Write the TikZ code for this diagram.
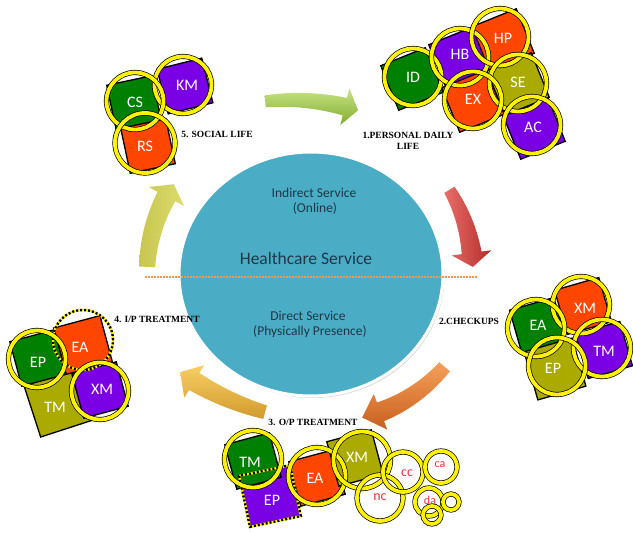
\documentclass[tikz,border=0pt]{standalone}
\usepackage{fontspec}
\setmainfont{Carlito}
\newfontfamily\capfont{Liberation Serif}
\usetikzlibrary{shapes.geometric,shadows}
\definecolor{grn}{RGB}{0,128,0}
\definecolor{pur}{RGB}{122,0,230}
\definecolor{org}{RGB}{255,70,0}
\definecolor{olv}{RGB}{170,170,0}
\definecolor{hubc}{RGB}{75,172,198}
\definecolor{hubtxt}{RGB}{30,55,70}
\definecolor{dotor}{RGB}{247,150,70}
\definecolor{smallred}{RGB}{230,50,60}
\newcommand\bandarrow[8]{%
  \pgfmathsetmacro\bab{#4-(#8)}%
  \path[#1] plot[domain=#3:\bab, samples=24, variable=\t] ({(#2+#5+(#6-#5)*(\t-(#3))/(\bab-(#3)))*cos(\t)},{(#2+#5+(#6-#5)*(\t-(#3))/(\bab-(#3)))*sin(\t)})
   -- ({(#2+#7)*cos(\bab)},{(#2+#7)*sin(\bab)})
   -- ({#2*cos(#4)},{#2*sin(#4)})
   -- ({(#2-#7)*cos(\bab)},{(#2-#7)*sin(\bab)})
   -- plot[domain=\bab:#3, samples=24, variable=\t] ({(#2-#5-(#6-#5)*(\t-(#3))/(\bab-(#3)))*cos(\t)},{(#2-#5-(#6-#5)*(\t-(#3))/(\bab-(#3)))*sin(\t)})
   -- cycle;}
\begin{document}
\begin{tikzpicture}[x=1pt,y=-1pt,
  sqr/.style={draw=black, line width=1.3pt, minimum size=46pt, inner sep=0pt, fill=#1},
  ring/.style={circle, draw=black, line width=0.7pt, double=yellow, double distance=3.8pt, minimum size=#1, inner sep=0pt},
  ring/.default=57pt,
  lab/.style={text=white, font=\fontsize{16}{16}\selectfont},
  slab/.style={text=smallred, font=\fontsize{#1}{#1}\selectfont},
  captx/.style={font=\capfont\bfseries\fontsize{9.5}{10.5}\selectfont, align=center},
  hubtext/.style={text=hubtxt, font=\fontsize{13.5}{14}\selectfont},
  dotline/.style={draw=yellow, line width=2.4pt, postaction={draw=black, line width=2.4pt, dash pattern=on 2pt off 2pt}}]
\useasboundingbox (0,0) rectangle (633,534);
\fill[white] (0,0) rectangle (633,534);

% ---- central hub ----
\node[ellipse, draw=white, line width=3pt, fill=hubc, minimum width=264pt, minimum height=244pt, inner sep=0pt,
      drop shadow={shadow xshift=1.5pt, shadow yshift=-2pt, opacity=0.3}] (hub) at (311,274) {};
\coordinate (dl) at (145,277);
\coordinate (dr) at (477,277);
\draw[dotor, line width=2.4pt, dash pattern=on 1.6pt off 1.4pt] (dl) -- (dr);
\node[hubtext] (ind1) at (314,193) {Indirect Service};
\node[hubtext] (ind2) at (315,209) {(Online)};
\node[text=hubtxt, font=\fontsize{17.5}{18}\selectfont] (hs) at (306,258) {Healthcare Service};
\node[hubtext] (dir1) at (308,316) {Direct Service};
\node[hubtext] (dir2) at (310,332) {(Physically Presence)};

% ---- cycle arrows ----
\begin{scope}[shift={(290,330)}]
  \bandarrow{top color={rgb,255:red,200;green,228;blue,130}, bottom color={rgb,255:red,130;green,172;blue,50}}{230}{-96.2}{-72.8}{6}{9}{19}{3.4}
\end{scope}
\begin{scope}[shift={(311,274)}]
  \bandarrow{left color={rgb,255:red,232;green,110;blue,105}, right color={rgb,255:red,180;green,45;blue,42}}{162}{-31.3}{-2.5}{6}{10}{20}{5}
\end{scope}
\begin{scope}[shift={(325,265)}]
  \bandarrow{top color={rgb,255:red,245;green,160;blue,90}, bottom color={rgb,255:red,200;green,95;blue,30}}{157}{40.4}{76.3}{7}{10}{19}{7}
\end{scope}
\begin{scope}[shift={(338.4,146.1)}]
  \bandarrow{top color={rgb,255:red,247;green,205;blue,100}, bottom color={rgb,255:red,210;green,155;blue,45}}{276}{105.4}{125}{7}{10}{19}{3.5}
\end{scope}
\begin{scope}[shift={(311,274)}]
  \bandarrow{left color={rgb,255:red,200;green,198;blue,80}, right color={rgb,255:red,220;green,220;blue,110}}{164}{182.5}{213.2}{8}{10}{20}{5}
\end{scope}

% ---- 5. social life ----
\node[sqr=pur, rotate=14] (kmS) at (185,86) {};
\node[sqr=grn, rotate=12] (csS) at (134,103) {};
\node[sqr=org, rotate=12] (rsS) at (148,146) {};
\node[ring] (kmR) at (183,85) {};
\node[ring] (csR) at (135,101) {};
\node[ring=60pt] (rsR) at (145,143) {};
\node[lab] (kmT) at (187,85) {KM};
\node[lab] (csT) at (135,102) {CS};
\node[lab] (rsT) at (145,146) {RS};
\node[captx] (c5) at (217,134) {5. SOCIAL LIFE};

% ---- 1. personal daily life ----
\node[sqr=grn, minimum size=48pt, rotate=22] (idS) at (412,79) {};
\node[sqr=pur, minimum size=48pt, rotate=22] (hbS) at (460,58) {};
\node[sqr=org, minimum size=48pt, rotate=22] (hpS) at (503,40) {};
\node[sqr=pur, minimum size=48pt, rotate=22] (acS) at (534,128) {};
\node[sqr=olv, minimum size=48pt, rotate=22] (seS) at (518,84) {};
\node[sqr=org, minimum size=48pt, rotate=22] (exS) at (473,101) {};
\node[ring] (idR) at (413,77) {};
\node[ring] (hbR) at (460,57) {};
\node[ring] (hpR) at (500,37) {};
\node[ring] (seR) at (518,83) {};
\node[ring] (exR) at (473,100) {};
\node[ring] (acR) at (532,125) {};
\node[lab] (idT) at (413,77) {ID};
\node[lab] (hbT) at (460,54) {HB};
\node[lab] (hpT) at (503,38) {HP};
\node[lab] (seT) at (518,82) {SE};
\node[lab] (exT) at (473,99) {EX};
\node[lab] (acT) at (533,127) {AC};
\node[captx] (c1) at (408,141) {1.PERSONAL DAILY\\LIFE};

% ---- 2. checkups ----
\node[sqr=org, rotate=16] (xmS) at (583,306) {};
\node[sqr=pur, rotate=16] (tmS) at (604,350) {};
\node[sqr=grn, rotate=16] (eaS) at (538,326) {};
\node[sqr=olv, rotate=16, minimum size=50pt] (epS) at (555,369) {};
\node[ring] (xmR) at (581,305) {};
\node[ring] (eaR) at (536,328) {};
\node[ring] (tmR) at (602,348) {};
\node[ring] (epR) at (557,366) {};
\node[lab] (eaT) at (538,325) {EA};
\node[lab] (xmT) at (585,308) {XM};
\node[lab] (tmT) at (604,351) {TM};
\node[lab] (epT) at (553,368) {EP};
\node[captx] (c2) at (469,321) {2.CHECKUPS};

% ---- 3. O/P treatment ----
\node[sqr=pur, rotate=12, minimum size=52pt, draw=none] (ep3S) at (270,496) {};
\node[sqr=grn, rotate=15] (tm3S) at (253,461) {};
\node[sqr=org, rotate=15] (ea3S) at (317,478) {};
\node[sqr=olv, rotate=15] (xm3S) at (355,458) {};
\node[rotate=12, minimum size=52pt, inner sep=0pt, dotline] (ep3D) at (270,496) {};
\node[ring] (tm3R) at (253,459) {};
\node[ring] (ea3R) at (317,476) {};
\node[ring] (xm3R) at (362,460) {};
\node[ring=46pt] (ncR) at (380,498) {};
\node[ring=40pt] (ccR) at (403,472) {};
\node[ring=32pt] (caR) at (441,467) {};
\node[ring=28pt] (daR) at (429,502) {};
\node[ring=16pt] (s1R) at (451,502) {};
\node[ring=18pt] (s2R) at (432,515) {};
\node[lab] (tm3T) at (250,462) {TM};
\node[lab] (ep3T) at (272,500) {EP};
\node[lab] (ea3T) at (315,478) {EA};
\node[lab] (xm3T) at (357,457) {XM};
\node[slab=14] (ccT) at (407,473) {cc};
\node[slab=12] (caT) at (440,465) {ca};
\node[slab=14] (ncT) at (380,497) {nc};
\node[slab=12] (daT) at (430,500) {da};
\node[captx] (c3) at (313,422) {3. O/P TREATMENT};

% ---- 4. I/P treatment ----
\node[sqr=olv, rotate=18, minimum size=54pt] (tm4S) at (58,403) {};
\node[sqr=org, rotate=15, minimum size=48pt] (ea4S) at (83,345) {};
\node[sqr=grn, rotate=15] (ep4S) at (38,358) {};
\node[sqr=pur, rotate=15] (xm4S) at (100,390) {};
\node[circle, minimum size=60pt, inner sep=0pt, dotline] (ea4D) at (83,340) {};
\node[ring] (ep4R) at (37,359) {};
\node[ring] (xm4R) at (100,391) {};
\node[lab] (ep4T) at (38,362) {EP};
\node[lab] (ea4T) at (80,347) {EA};
\node[lab] (tm4T) at (55,407) {TM};
\node[lab] (xm4T) at (102,389) {XM};
\node[captx] (c4) at (157,319) {4. I/P TREATMENT};
\end{tikzpicture}
\end{document}
